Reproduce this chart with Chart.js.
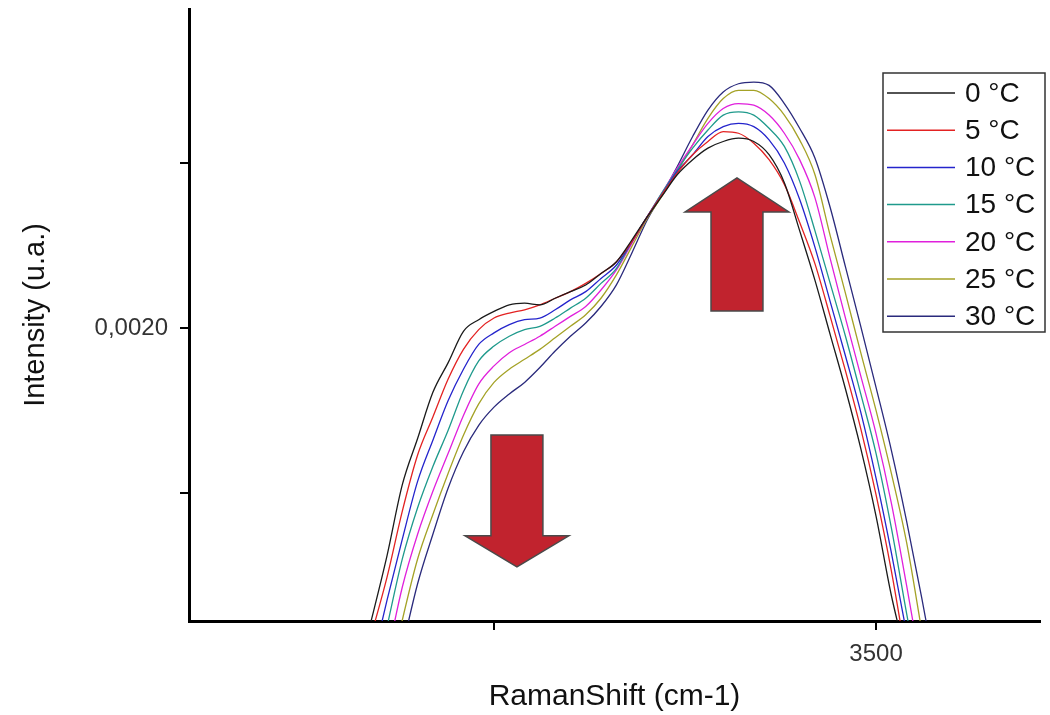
<!DOCTYPE html>
<html><head><meta charset="utf-8">
<script src="https://cdn.jsdelivr.net/npm/chart.js@4.4.1/dist/chart.umd.min.js"></script>
<style>html,body{margin:0;padding:0;background:#fff;}canvas{display:block;}</style>
</head><body>
<canvas id="c" width="1050" height="715"></canvas>
<script>
// Raman shift (cm-1)
const wavenumbers = [3160,3170,3180,3190,3200,3210,3220,3230,3240,3250,3260,3270,3280,3290,3300,3310,3320,3330,3340,3350,3360,3370,3380,3390,3400,3410,3420,3430,3440,3450,3460,3470,3480,3490,3500,3510,3520,3530,3540];
const temperatureLabels = ['0 °C','5 °C','10 °C','15 °C','20 °C','25 °C','30 °C'];
const seriesColors = ['#1a1a1a','#e32222','#2424cc','#1f9a8c','#e020dc','#a4a226','#2a2a7c'];
// Intensity (u.a.)
const int0 = [0.001788,0.001824,0.001862,0.001905,0.001933,0.001961,0.001979,0.001998,0.002005,0.002010,0.002014,0.002015,0.002014,0.002018,0.002022,0.002026,0.002033,0.002040,0.002053,0.002067,0.002080,0.002093,0.002102,0.002109,0.002113,0.002115,0.002113,0.002105,0.002088,0.002059,0.002029,0.001996,0.001963,0.001927,0.001886,0.001838,0.001799,0.001756,0.001714];
const int5 = [0.001782,0.001815,0.001849,0.001889,0.001923,0.001946,0.001969,0.001987,0.001999,0.002006,0.002009,0.002011,0.002014,0.002018,0.002022,0.002027,0.002033,0.002040,0.002052,0.002067,0.002081,0.002094,0.002105,0.002113,0.002119,0.002118,0.002112,0.002102,0.002087,0.002064,0.002039,0.002007,0.001974,0.001939,0.001899,0.001853,0.001799,0.001746,0.001692];
const int10 = [0.001760,0.001796,0.001835,0.001872,0.001907,0.001932,0.001956,0.001975,0.001990,0.001997,0.002002,0.002005,0.002006,0.002011,0.002017,0.002022,0.002030,0.002038,0.002052,0.002067,0.002081,0.002095,0.002105,0.002116,0.002122,0.002124,0.002122,0.002114,0.002100,0.002078,0.002049,0.002016,0.001983,0.001949,0.001909,0.001864,0.001815,0.001765,0.001715];
const int15 = [0.001740,0.001777,0.001819,0.001860,0.001891,0.001916,0.001938,0.001962,0.001980,0.001989,0.001995,0.001999,0.002001,0.002006,0.002012,0.002018,0.002027,0.002036,0.002052,0.002067,0.002082,0.002096,0.002109,0.002120,0.002129,0.002131,0.002129,0.002121,0.002110,0.002089,0.002059,0.002027,0.001995,0.001960,0.001924,0.001879,0.001827,0.001777,0.001726];
const int20 = [0.001720,0.001757,0.001800,0.001843,0.001875,0.001901,0.001924,0.001947,0.001966,0.001977,0.001985,0.001990,0.001995,0.002001,0.002007,0.002013,0.002023,0.002035,0.002051,0.002067,0.002082,0.002097,0.002111,0.002124,0.002133,0.002136,0.002135,0.002129,0.002118,0.002102,0.002079,0.002042,0.002006,0.001971,0.001936,0.001894,0.001844,0.001791,0.001737];
const int25 = [0.001700,0.001738,0.001781,0.001823,0.001860,0.001887,0.001912,0.001935,0.001954,0.001967,0.001975,0.001981,0.001987,0.001994,0.002001,0.002008,0.002018,0.002032,0.002049,0.002066,0.002080,0.002095,0.002111,0.002127,0.002139,0.002144,0.002144,0.002139,0.002129,0.002114,0.002093,0.002056,0.002021,0.001985,0.001950,0.001912,0.001870,0.001816,0.001762];
const int30 = [0.001690,0.001727,0.001766,0.001806,0.001845,0.001875,0.001903,0.001925,0.001941,0.001952,0.001960,0.001967,0.001976,0.001986,0.001995,0.002003,0.002013,0.002026,0.002045,0.002065,0.002081,0.002098,0.002116,0.002132,0.002143,0.002148,0.002149,0.002147,0.002136,0.002121,0.002103,0.002073,0.002037,0.002001,0.001964,0.001926,0.001883,0.001836,0.001786];
const seriesValues = [int0,int5,int10,int15,int20,int25,int30];
// axes
const xRange = [3050.4, 3607.3];
const yRange = [0.0018224, 0.0021933];
const xTickValues = [3250, 3500];
const xTickLabels = ['', '3500'];
const yTickValues = [0.0019, 0.0020, 0.0021];
const yTickLabels = ['', '0,0020', ''];
// annotation arrows (data coordinates): [centerX, tailY, headBaseY, tipY]
const arrowDown = [3265, 0.0019352, 0.0018740, 0.0018552];
const arrowUp = [3409, 0.0020103, 0.0020703, 0.0020909];
const arrowShaftHalf = 17, arrowHeadHalf = 34;

const datasets = seriesValues.map((vals, i) => ({
  label: temperatureLabels[i],
  data: wavenumbers.map((w, j) => ({x: w, y: vals[j]})),
  borderColor: seriesColors[i],
  backgroundColor: seriesColors[i],
  borderWidth: 1.3,
  pointRadius: 0,
  cubicInterpolationMode: 'monotone',
  fill: false
}));

const arrowsPlugin = {
  id: 'arrows',
  afterDatasetsDraw(chart) {
    const {ctx, scales: {x, y}} = chart;
    const draw = (a) => {
      const cx = x.getPixelForValue(a[0]);
      const sh = x.getPixelForValue(a[0] + arrowShaftHalf) - cx;
      const hh = x.getPixelForValue(a[0] + arrowHeadHalf) - cx;
      const t = y.getPixelForValue(a[1]), b = y.getPixelForValue(a[2]), tip = y.getPixelForValue(a[3]);
      ctx.save();
      ctx.beginPath();
      ctx.moveTo(cx - sh, t); ctx.lineTo(cx + sh, t); ctx.lineTo(cx + sh, b);
      ctx.lineTo(cx + hh, b); ctx.lineTo(cx, tip); ctx.lineTo(cx - hh, b);
      ctx.lineTo(cx - sh, b); ctx.closePath();
      ctx.fillStyle = '#c1232e'; ctx.fill();
      ctx.lineWidth = 1.5; ctx.strokeStyle = '#4a4a4a'; ctx.stroke();
      ctx.restore();
    };
    draw(arrowDown); draw(arrowUp);
  }
};

const boxLegendPlugin = {
  id: 'boxLegend',
  afterDraw(chart) {
    const {ctx, chartArea} = chart;
    const left = chartArea.right - 157, top = chartArea.top + 64;
    const w = 162, rowH = 37.2, h = 259;
    ctx.save();
    ctx.fillStyle = '#fff';
    ctx.fillRect(left, top, w, h);
    ctx.lineWidth = 1.5; ctx.strokeStyle = '#333';
    ctx.strokeRect(left, top, w, h);
    ctx.font = '28px "Liberation Sans", Arial, sans-serif';
    ctx.textBaseline = 'middle';
    chart.data.datasets.forEach((ds, i) => {
      const yy = top + 20 + i * rowH;
      ctx.strokeStyle = ds.borderColor; ctx.lineWidth = 1.5;
      ctx.beginPath(); ctx.moveTo(left + 4, yy); ctx.lineTo(left + 72, yy); ctx.stroke();
      ctx.fillStyle = '#111';
      ctx.fillText(ds.label, left + 82, yy + 1);
    });
    ctx.restore();
  }
};

new Chart(document.getElementById('c'), {
  type: 'line',
  data: {datasets},
  plugins: [arrowsPlugin, boxLegendPlugin],
  options: {
    responsive: false,
    animation: false,
    layout: {padding: {top: 9, right: 10, left: 0, bottom: 0}},
    plugins: {legend: {display: false}, tooltip: {enabled: false}},
    scales: {
      x: {
        type: 'linear', min: xRange[0], max: xRange[1],
        afterFit(s) { s.height = 94; s.paddingLeft = 0; s.paddingRight = 0; },
        afterBuildTicks(s) { s.ticks = xTickValues.map(v => ({value: v})); },
        grid: {display: true, drawOnChartArea: false, drawTicks: true, tickLength: 9, color: '#000', lineWidth: 2},
        border: {display: true, color: '#000', width: 3},
        ticks: {
          autoSkip: false, maxRotation: 0, padding: 10, color: '#333',
          font: {family: '"Liberation Sans", Arial, sans-serif', size: 24},
          callback: (v) => { const k = xTickValues.indexOf(v); return k >= 0 ? xTickLabels[k] : ''; }
        },
        title: {display: true, text: 'RamanShift (cm-1)', color: '#111',
          font: {family: '"Liberation Sans", Arial, sans-serif', size: 30}, padding: {top: 0, bottom: 0}}
      },
      y: {
        type: 'linear', min: yRange[0], max: yRange[1],
        afterFit(s) { s.width = 189; s.paddingTop = 0; s.paddingBottom = 0; },
        afterBuildTicks(s) { s.ticks = yTickValues.map(v => ({value: v})); },
        grid: {display: true, drawOnChartArea: false, drawTicks: true, tickLength: 9, color: '#000', lineWidth: 2},
        border: {display: true, color: '#000', width: 3},
        ticks: {
          autoSkip: false, padding: 12, color: '#333',
          font: {family: '"Liberation Sans", Arial, sans-serif', size: 24},
          callback: (v) => { const k = yTickValues.findIndex(t => Math.abs(t - v) < 1e-9); return k >= 0 ? yTickLabels[k] : ''; }
        },
        title: {display: true, text: 'Intensity (u.a.)', color: '#111',
          font: {family: '"Liberation Sans", Arial, sans-serif', size: 29}, padding: {top: 19, bottom: 0}}
      }
    }
  }
});
</script>
</body></html>
